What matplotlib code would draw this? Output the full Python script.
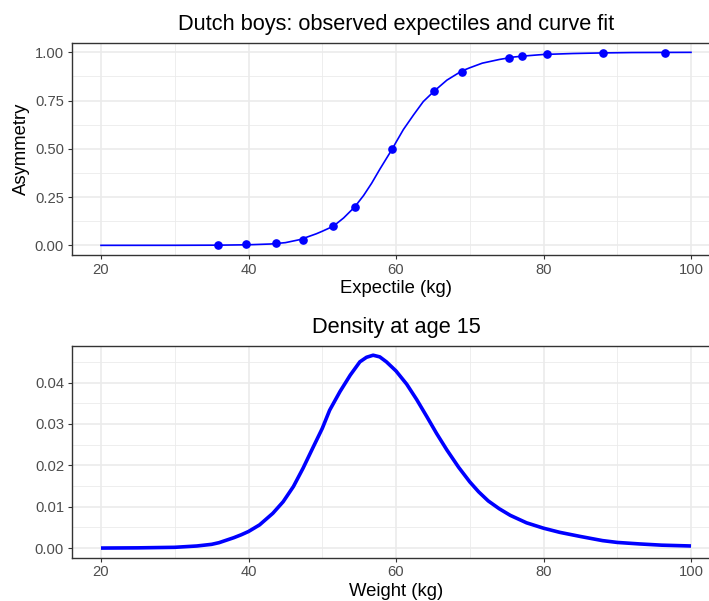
import matplotlib
matplotlib.use("Agg")
import matplotlib.pyplot as plt
from matplotlib.ticker import MultipleLocator

plt.rcParams['font.family'] = ['Liberation Sans', 'DejaVu Sans']

# ---- Data ----
# Observed expectiles (kg) and their asymmetry levels
obs_expectile = [35.9, 39.7, 43.7, 47.4, 51.5, 54.4, 59.5, 65.2, 69.0, 75.3, 77.1, 80.5, 88.1, 96.5]
obs_asymmetry = [0.001, 0.005, 0.01, 0.03, 0.10, 0.20, 0.50, 0.80, 0.90, 0.97, 0.98, 0.99, 0.995, 0.999]

# Fitted curve
fit_expectile = [20, 30, 36, 40, 43, 45, 47, 49.2, 50, 51.5, 52.9, 54.4, 55.6, 56.7, 57.8,
                 59.5, 60, 61, 62.4, 63.7, 65.2, 66.9, 68.9, 70, 71.7, 74, 76, 78, 80,
                 84, 88, 92, 100]
fit_asymmetry = [0.0, 0.0002, 0.001, 0.003, 0.007, 0.014, 0.03, 0.06, 0.073, 0.099, 0.142,
                 0.199, 0.258, 0.322, 0.394, 0.50, 0.534, 0.60, 0.677, 0.745, 0.80, 0.856,
                 0.903, 0.92, 0.944, 0.963, 0.976, 0.983, 0.989, 0.994, 0.997, 0.999, 1.0]

# Density at age 15
dens_weight = [20, 25, 30, 33, 35, 36, 38, 39, 40, 41.5, 43.3, 44.7, 46.1, 47.4, 48.8, 50,
               51, 52.4, 53.8, 55.1, 56, 56.9, 57.8, 58.7, 60, 61.45, 62.8, 64.2, 65.5,
               66.9, 68.5, 70, 71.2, 72.5, 74, 75.5, 77.7, 80, 82.2, 85, 88, 90, 93, 96, 100]
dens_value = [0.0, 0.00005, 0.00018, 0.0005, 0.0009, 0.0013, 0.0025, 0.0032, 0.0040,
              0.0056, 0.0084, 0.0112, 0.0149, 0.0193, 0.0245, 0.0289, 0.0333, 0.0378,
              0.0418, 0.0450, 0.0461, 0.0466, 0.0462, 0.0450, 0.0428, 0.0396, 0.0359,
              0.0317, 0.0277, 0.0237, 0.0195, 0.0160, 0.0136, 0.0114, 0.0095, 0.0079,
              0.0061, 0.0048, 0.0038, 0.0028, 0.0018, 0.00136, 0.0010, 0.0007, 0.0005]

x_ticks = [20, 40, 60, 80, 100]
top_y_ticks = [0.0, 0.25, 0.5, 0.75, 1.0]
top_y_labels = ['0.00', '0.25', '0.50', '0.75', '1.00']
bot_y_ticks = [0.0, 0.01, 0.02, 0.03, 0.04]
bot_y_labels = ['0.00', '0.01', '0.02', '0.03', '0.04']

W, H = 709, 601
fig = plt.figure(figsize=(W / 100, H / 100), dpi=100)

def px_axes(left, top, right, bottom):
    return fig.add_axes([left / W, 1 - bottom / H, (right - left) / W, (bottom - top) / H])

ax1 = px_axes(71.5, 42.7, 720.5, 255.0)
ax2 = px_axes(71.5, 345.7, 720.5, 557.7)

def style(ax):
    ax.set_facecolor('white')
    for s in ax.spines.values():
        s.set_color('#333333')
        s.set_linewidth(1.0)
    ax.set_axisbelow(True)
    ax.grid(which='major', color='#EBEBEB', linewidth=1.2)
    ax.grid(which='minor', color='#EBEBEB', linewidth=0.6)
    ax.tick_params(which='major', length=2.9, width=0.8, color='#333333',
                   labelcolor='#4D4D4D', labelsize=10.6, pad=2.5)
    ax.tick_params(which='minor', length=0)
    ax.xaxis.set_minor_locator(MultipleLocator(10))

# Top panel
ax1.plot(fit_expectile, fit_asymmetry, color='#0000FF', linewidth=1.2, zorder=3)
ax1.plot(obs_expectile, obs_asymmetry, 'o', color='#0000FF', markersize=5.2, zorder=4)
ax1.set_xlim(16, 104)
ax1.set_ylim(-0.05, 1.05)
ax1.set_xticks(x_ticks)
ax1.set_yticks(top_y_ticks)
ax1.set_yticklabels(top_y_labels)
ax1.yaxis.set_minor_locator(MultipleLocator(0.125))
style(ax1)
ax1.set_title('Dutch boys: observed expectiles and curve fit', fontsize=15.7, pad=9.4)
ax1.set_xlabel('Expectile (kg)', fontsize=13.3, labelpad=2.5)
ax1.set_ylabel('Asymmetry', fontsize=13.3, labelpad=3.5)

# Bottom panel
ax2.plot(dens_weight, dens_value, color='#0000FF', linewidth=2.6, zorder=3,
         solid_capstyle='butt', solid_joinstyle='round')
ax2.set_xlim(16, 104)
ax2.set_ylim(-0.00233, 0.0489)
ax2.set_xticks(x_ticks)
ax2.set_yticks(bot_y_ticks)
ax2.set_yticklabels(bot_y_labels)
ax2.yaxis.set_minor_locator(MultipleLocator(0.005))
style(ax2)
ax2.set_title('Density at age 15', fontsize=15.7, pad=8.8)
ax2.set_xlabel('Weight (kg)', fontsize=13.3, labelpad=2.5)

fig.savefig('out.png', dpi=100, facecolor='white')
